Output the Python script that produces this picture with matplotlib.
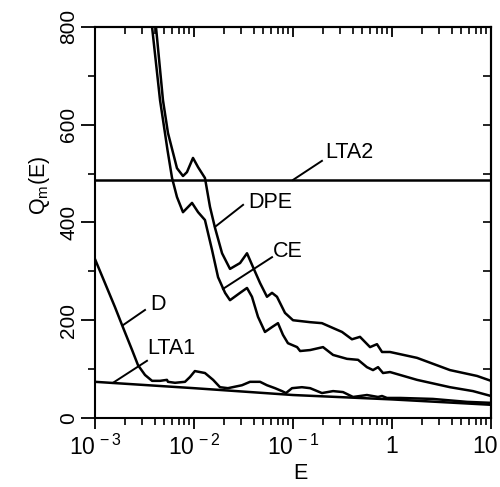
import matplotlib
matplotlib.use('Agg')
import matplotlib.pyplot as plt
import matplotlib.transforms as mtransforms
from matplotlib.ticker import FixedLocator, LogLocator, NullFormatter, FixedFormatter

plt.rcParams['font.family'] = ['Liberation Sans', 'DejaVu Sans']
plt.rcParams['mathtext.fontset'] = 'custom'
plt.rcParams['mathtext.rm'] = 'Liberation Sans'
plt.rcParams['mathtext.it'] = 'Liberation Sans'

# ---- data (E, Q) ----
dpe_E = [4.13e-3, 4.86e-3, 5.46e-3, 6.73e-3, 7.74e-3, 8.49e-3, 9.77e-3, 1.10e-2,
         1.29e-2, 1.45e-2, 1.63e-2, 1.92e-2, 2.31e-2, 2.92e-2, 3.43e-2, 3.94e-2,
         4.65e-2, 5.46e-2, 6.14e-2, 6.89e-2, 8.30e-2, 0.100, 0.149, 0.196,
         0.254, 0.313, 0.394, 0.475, 0.600, 0.705, 0.793, 0.955, 1.79, 3.85,
         7.23, 10.0]
dpe_Q = [800, 650, 583, 511, 495, 503, 532, 513,
         491, 432, 389, 337, 305, 317, 337, 309,
         276, 248, 256, 248, 215, 200, 196, 194,
         184, 176, 161, 166, 145, 151, 135, 135, 123, 98,
         86, 76]

ce_E = [3.77e-3, 4.54e-3, 5.09e-3, 5.40e-3, 6.0e-3, 6.73e-3, 7.74e-3, 9.55e-3,
        1.10e-2, 1.29e-2, 1.52e-2, 1.75e-2, 2.06e-2, 2.31e-2, 2.92e-2, 3.43e-2,
        3.85e-2, 4.43e-2, 5.21e-2, 6.14e-2, 7.05e-2, 7.92e-2, 8.89e-2, 0.110,
        0.118, 0.149, 0.201, 0.254, 0.351, 0.454, 0.558, 0.643, 0.723, 0.811,
        0.955, 1.79, 3.85, 6.58, 10.0]
ce_Q = [800, 650, 583, 548, 491, 452, 421, 440,
        421, 405, 344, 288, 256, 241, 256, 266,
        248, 207, 176, 186, 194, 170, 153, 145,
        137, 139, 145, 129, 121, 119, 104, 98, 104, 92,
        94, 78, 63, 55, 45]

d_E = [1.0e-3, 1.59e-3, 1.92e-3, 2.37e-3, 2.72e-3, 3.20e-3, 3.77e-3, 4.54e-3,
       5.33e-3, 5.46e-3, 6.43e-3, 8.11e-3, 9.12e-3, 1.02e-2, 1.29e-2, 1.56e-2,
       1.83e-2, 2.20e-2, 3.05e-2, 3.68e-2, 4.65e-2, 5.46e-2, 6.58e-2, 7.74e-2,
       8.49e-2, 9.77e-2, 0.123, 0.149, 0.196, 0.254, 0.320, 0.404, 0.558,
       0.723, 0.793, 0.889, 1.21, 2.59, 5.73, 10.0]
d_Q = [325, 227, 185, 139, 108, 88, 76, 76,
       78, 74, 72, 74, 84, 96, 92, 78,
       63, 61, 67, 74, 74, 67, 61, 55,
       51, 61, 63, 61, 51, 55, 53, 43, 47,
       43, 45, 41, 41, 39, 33, 31]

lta1_E = [1e-3, 1e-2, 1e-1, 1.0, 10.0]
lta1_Q = [74, 61, 47, 38, 27]

lta2_Q = 487

# labels: (text, leader start, leader end, text anchor) in data coords
labels = [
    ('LTA2', (0.100, 487), (0.196, 526), (0.21, 532)),
    ('DPE', (0.0163, 391), (0.0313, 436), (0.0351, 429)),
    ('CE', (0.0196, 264), (0.0614, 329), (0.0628, 329)),
    ('D', (1.92e-3, 190), (3.2e-3, 221), (3.6e-3, 221)),
    ('LTA1', (1.52e-3, 72), (3.35e-3, 117), (3.35e-3, 131)),
]

xticks = [1e-3, 1e-2, 1e-1, 1, 10]
xticklabels = [r'$\mathregular{10^{\,-3}}$', r'$\mathregular{10^{\,-2}}$',
               r'$\mathregular{10^{\,-1}}$', '1', '10']
yticks = [0, 200, 400, 600, 800]
yminor = [100, 300, 500, 700]

fig = plt.figure(figsize=(5, 4.87), dpi=100)
ax = fig.add_axes([0.19, 0.1417, 0.792, 0.803])

lw = 1.8
ax.plot(dpe_E, dpe_Q, color='black', lw=lw)
ax.plot(ce_E, ce_Q, color='black', lw=lw)
ax.plot(d_E, d_Q, color='black', lw=lw)
ax.plot(lta1_E, lta1_Q, color='black', lw=lw)
ax.axhline(lta2_Q, color='black', lw=lw)

for txt, p0, p1, pt in labels:
    ax.plot([p0[0], p1[0]], [p0[1], p1[1]], color='black', lw=1.4)
    ax.text(pt[0], pt[1], txt, fontsize=15.5, ha='left', va='baseline')

ax.set_xscale('log')
ax.set_xlim(1e-3, 10)
ax.set_ylim(0, 800)

for s in ax.spines.values():
    s.set_linewidth(1.5)

ax.xaxis.set_major_locator(FixedLocator(xticks))
ax.xaxis.set_major_formatter(FixedFormatter(xticklabels))
ax.xaxis.set_minor_locator(LogLocator(base=10, subs=range(2, 10)))
ax.xaxis.set_minor_formatter(NullFormatter())
ax.yaxis.set_major_locator(FixedLocator(yticks))
ax.yaxis.set_minor_locator(FixedLocator(yminor))

ax.tick_params(axis='x', which='major', direction='out', length=8, width=1.3,
               labelsize=16.5, pad=4)
ax.tick_params(axis='x', which='minor', direction='out', length=5, width=1.2)
ax.tick_params(axis='y', which='major', direction='out', length=10, width=1.3,
               labelsize=15, pad=2)
ax.tick_params(axis='y', which='minor', direction='out', length=5, width=1.2)
for lab in ax.get_yticklabels():
    lab.set_rotation(90)
    lab.set_va('center')

# last x label sits at the figure edge, nudge it left a little
last = ax.get_xticklabels()[-1]
last.set_transform(last.get_transform() +
                   mtransforms.ScaledTranslation(-6 / 100, 0, fig.dpi_scale_trans))

# inward ticks on top and right
top = ax.secondary_xaxis('top')
top.xaxis.set_major_locator(FixedLocator(xticks))
top.xaxis.set_minor_locator(LogLocator(base=10, subs=range(2, 10)))
top.xaxis.set_major_formatter(NullFormatter())
top.xaxis.set_minor_formatter(NullFormatter())
top.tick_params(which='major', direction='in', length=7, width=1.3)
top.tick_params(which='minor', direction='in', length=5, width=1.2)
top.spines['top'].set_linewidth(1.5)

right = ax.secondary_yaxis('right')
right.yaxis.set_major_locator(FixedLocator(yticks))
right.yaxis.set_minor_locator(FixedLocator(yminor))
right.yaxis.set_major_formatter(NullFormatter())
right.tick_params(which='both', direction='in', length=6, width=1.2)
right.spines['right'].set_linewidth(1.5)

ax.set_xlabel('E', fontsize=15.5)
ax.xaxis.set_label_coords(0.518, -0.115)
ax.set_ylabel(r'Q$_\mathregular{m}$(E)', fontsize=15.5)
ax.yaxis.set_label_coords(-0.108, 0.596)

fig.savefig('out.png', dpi=100)
